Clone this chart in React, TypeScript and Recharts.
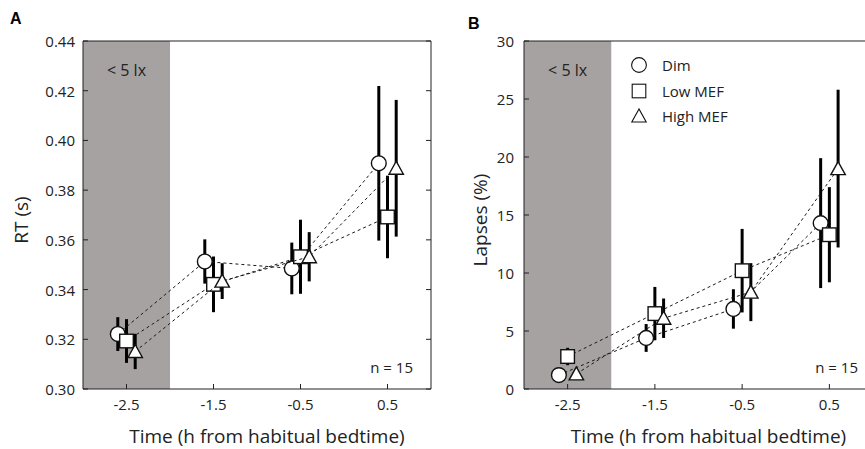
import { ComposedChart, Scatter, XAxis, YAxis, ErrorBar, ReferenceArea, Legend } from "recharts";

// time bins (h from habitual bedtime) and per-condition x positions (dodged)
const times = [-2.5, -1.5, -0.5, 0.5];
const dimX = [-2.6, -1.6, -0.6, 0.4];
const lowX = [-2.5, -1.5, -0.5, 0.5];
const highX = [-2.4, -1.4, -0.4, 0.6];

// panel A: reaction time (s), mean and error
const rtDim = [0.3221, 0.3513, 0.3485, 0.3908];
const rtDimErr = [0.0068, 0.0089, 0.0104, 0.0311];
const rtLow = [0.3193, 0.3421, 0.3532, 0.3692];
const rtLowErr = [0.0088, 0.0112, 0.0149, 0.0166];
const rtHigh = [0.3151, 0.3434, 0.3532, 0.3888];
const rtHighErr = [0.0071, 0.0072, 0.0099, 0.0275];

// panel B: lapses (%), mean and error
const lapDim = [1.2, 4.4, 6.9, 14.3];
const lapDimErr = [0.4, 1.2, 1.7, 5.6];
const lapLow = [2.8, 6.5, 10.2, 13.3];
const lapLowErr = [0.75, 2.3, 3.6, 4.1];
const lapHigh = [1.3, 6.1, 8.35, 19.0];
const lapHighErr = [0.3, 1.7, 2.5, 6.8];

const rtTicks = [0.3, 0.32, 0.34, 0.36, 0.38, 0.4, 0.42, 0.44];
const lapTicks = [0, 5, 10, 15, 20, 25, 30];

const groups = [
  { name: "Dim", kind: "circle" },
  { name: "Low MEF", kind: "square" },
  { name: "High MEF", kind: "triangle" },
];

const FONT = '"Open Sans", sans-serif';
const INK = "#222";
const SHADE = "#a6a2a1";

const pts = (xs: number[], ys: number[], es: number[]) => xs.map((x, i) => ({ x, y: ys[i], err: es[i] }));

function Marker({ kind, cx, cy, sw = 1.4 }: { kind: string; cx: number; cy: number; sw?: number }) {
  if (kind === "circle") return <circle cx={cx} cy={cy} r={7.4} fill="#fff" stroke="#111" strokeWidth={sw} />;
  if (kind === "square")
    return <rect x={cx - 6.8} y={cy - 6.8} width={13.6} height={13.6} fill="#fff" stroke="#111" strokeWidth={sw} />;
  return (
    <polygon
      points={`${cx},${cy - 7} ${cx - 7.2},${cy + 6} ${cx + 7.2},${cy + 6}`}
      fill="#fff"
      stroke="#111"
      strokeWidth={sw}
      strokeLinejoin="miter"
    />
  );
}

const bottomTick = (p: any) => (
  <g>
    <line x1={p.x} y1={p.y} x2={p.x} y2={p.y - 5} stroke={INK} />
    <text x={p.x} y={p.y + 21} textAnchor="middle" fontSize={15} fill={INK}>
      {p.payload.value.toFixed(1)}
    </text>
  </g>
);

const topTick = (p: any) => <line x1={p.x} y1={p.y} x2={p.x} y2={p.y + 5} stroke={INK} />;
const rightTick = (p: any) => <line x1={p.x} y1={p.y} x2={p.x - 5} y2={p.y} stroke={INK} />;

const leftTick = (gap: number, digits: number) => (p: any) => (
  <g>
    <line x1={p.x} y1={p.y} x2={p.x + 5} y2={p.y} stroke={INK} />
    <text x={p.x - gap} y={p.y + 6} textAnchor="end" fontSize={15} fill={INK}>
      {p.payload.value.toFixed(digits)}
    </text>
  </g>
);

const xTitle = (p: any) => {
  const vb = p.viewBox;
  return (
    <text x={vb.x + vb.width / 2 + 10} y={vb.y + vb.height + 24} textAnchor="middle" fontSize={19} fill={INK}>
      Time (h from habitual bedtime)
    </text>
  );
};

const yTitle = (text: string, back: number) => (p: any) => {
  const vb = p.viewBox;
  const x = vb.x + vb.width - back;
  const y = vb.y + vb.height / 2 + 5;
  return (
    <text x={x} y={y} transform={`rotate(-90, ${x}, ${y})`} textAnchor="middle" fontSize={19} fill={INK}>
      {text}
    </text>
  );
};

const legendBox = () => (
  <div style={{ fontFamily: FONT, fontSize: 15, color: INK }}>
    {groups.map((g) => (
      <div key={g.name} style={{ display: "flex", alignItems: "center", height: 25.8 }}>
        <svg width={18} height={18} style={{ overflow: "visible" }}>
          <Marker kind={g.kind} cx={9} cy={9} sw={1.1} />
        </svg>
        <span style={{ marginLeft: 14 }}>{g.name}</span>
      </div>
    ))}
  </div>
);

type PanelProps = {
  series: { x: number; y: number; err: number }[][];
  domain: [number, number];
  yTicks: number[];
  digits: number;
  title: string;
  titleBack: number;
  gap: number;
  width: number;
  marginLeft: number;
  legend?: boolean;
};

function Panel({ series, domain, yTicks, digits, title, titleBack, gap, width, marginLeft, legend }: PanelProps) {
  return (
    <ComposedChart width={width} height={449} margin={{ top: 40, right: 8, bottom: 30, left: marginLeft }}>
      <XAxis
        dataKey="x"
        type="number"
        domain={[-3, 1]}
        ticks={times}
        interval={0}
        allowDataOverflow
        tickSize={0}
        tickMargin={0}
        tickLine={false}
        height={30}
        axisLine={{ stroke: INK }}
        tick={bottomTick}
        label={xTitle}
      />
      <XAxis
        xAxisId="top"
        orientation="top"
        type="number"
        domain={[-3, 1]}
        ticks={times}
        interval={0}
        allowDataOverflow
        tickSize={0}
        tickMargin={0}
        tickLine={false}
        height={1}
        axisLine={{ stroke: INK }}
        tick={topTick}
      />
      <YAxis
        dataKey="y"
        type="number"
        domain={domain}
        ticks={yTicks}
        interval={0}
        allowDataOverflow
        tickSize={0}
        tickMargin={0}
        tickLine={false}
        width={60}
        axisLine={{ stroke: INK }}
        tick={leftTick(gap, digits)}
        label={yTitle(title, titleBack)}
      />
      <YAxis
        yAxisId="r"
        orientation="right"
        type="number"
        domain={domain}
        ticks={yTicks}
        interval={0}
        allowDataOverflow
        tickSize={0}
        tickMargin={0}
        tickLine={false}
        width={1}
        axisLine={{ stroke: INK }}
        tick={rightTick}
      />
      <ReferenceArea
        x1={-3}
        x2={-2}
        fill={SHADE}
        fillOpacity={1}
        stroke="none"
        label={{ value: "< 5 lx", position: "insideTop", offset: 24, fontSize: 16, fill: INK }}
      />
      {series.map((data, i) => (
        <Scatter
          key={groups[i].name}
          name={groups[i].name}
          data={data}
          isAnimationActive={false}
          line={{ stroke: "#1a1a1a", strokeWidth: 1, strokeDasharray: "3 3" }}
          shape={(p: any) => <Marker kind={groups[i].kind} cx={p.cx} cy={p.cy} />}
        >
          <ErrorBar dataKey="err" direction="y" width={0} stroke="#000" strokeWidth={3} isAnimationActive={false} />
        </Scatter>
      ))}
      {legend && (
        <Legend
          layout="vertical"
          verticalAlign="middle"
          align="center"
          content={legendBox}
          wrapperStyle={{ left: 190, top: 52, width: 160, height: 80 }}
        />
      )}
    </ComposedChart>
  );
}

export default function App() {
  const rtSeries = [pts(dimX, rtDim, rtDimErr), pts(lowX, rtLow, rtLowErr), pts(highX, rtHigh, rtHighErr)];
  const lapSeries = [pts(dimX, lapDim, lapDimErr), pts(lowX, lapLow, lapLowErr), pts(highX, lapHigh, lapHighErr)];
  return (
    <div
      style={{
        position: "fixed",
        left: 0,
        top: 0,
        width: 865,
        height: 449,
        overflow: "hidden",
        background: "#fff",
        fontFamily: FONT,
      }}
    >
      <div style={{ position: "absolute", left: 0, top: 0 }}>
        <Panel
          series={rtSeries}
          domain={[0.3, 0.44]}
          yTicks={rtTicks}
          digits={2}
          title="RT (s)"
          titleBack={55}
          gap={8}
          width={440}
          marginLeft={23}
        />
      </div>
      <div style={{ position: "absolute", left: 440, top: 0 }}>
        <Panel
          series={lapSeries}
          domain={[0, 30]}
          yTicks={lapTicks}
          digits={0}
          title="Lapses (%)"
          titleBack={37}
          gap={10}
          width={442}
          marginLeft={24}
          legend
        />
      </div>
      <svg width={865} height={449} style={{ position: "absolute", left: 0, top: 0, pointerEvents: "none" }}>
        <text x={10} y={24} fontSize={16} fontWeight="bold" fontFamily='"Liberation Sans", Arial, sans-serif' fill="#000">
          A
        </text>
        <text x={468} y={29} fontSize={16} fontWeight="bold" fontFamily='"Liberation Sans", Arial, sans-serif' fill="#000">
          B
        </text>
        <text x={413} y={373} textAnchor="end" fontSize={15} fill={INK}>
          n = 15
        </text>
        <text x={858} y={373} textAnchor="end" fontSize={15} fill={INK}>
          n = 15
        </text>
      </svg>
    </div>
  );
}
